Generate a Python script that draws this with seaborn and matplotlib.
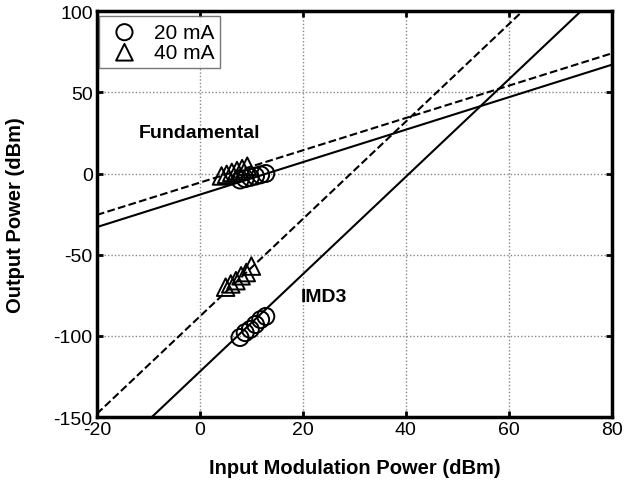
import matplotlib
matplotlib.use("Agg")
import matplotlib.pyplot as plt
import seaborn as sns
import pandas as pd

# Measured data
fund_x_20 = [7.8, 8.8, 9.8, 10.8, 11.8, 12.8]
fund_y_20 = [-4.0, -3.2, -2.4, -1.6, -0.8, 0.0]
fund_x_40 = [4.2, 5.2, 6.2, 7.2, 8.2, 9.2]
fund_y_40 = [-1.5, -0.5, 0.7, 1.8, 3.0, 4.5]
imd_x_20 = [7.8, 8.8, 9.8, 10.8, 11.8, 12.8]
imd_y_20 = [-101, -98, -96, -93, -90, -88]
imd_x_40 = [5.0, 6.0, 7.0, 8.0, 9.0, 10.0]
imd_y_40 = [-70, -68, -66, -63, -61, -57]

# Fitted lines (endpoints at axis limits)
fit_x = [-20, 80]
fund_fit_20 = [-33, 67]
fund_fit_40 = [-25.5, 74]
imd_fit_20 = [-182, 118]
imd_fit_40 = [-148, 152]

x_ticks = [-20, 0, 20, 40, 60, 80]
y_ticks = [-150, -100, -50, 0, 50, 100]

sns.set_style("white")
plt.rcParams['font.family'] = ['Liberation Sans', 'DejaVu Sans']
plt.rcParams['axes.unicode_minus'] = False
for k in ['text.color', 'axes.labelcolor', 'xtick.color', 'ytick.color']:
    plt.rcParams[k] = 'black'

fig = plt.figure(figsize=(6.25, 4.85), dpi=100)
ax = fig.add_axes([0.155, 0.138, 0.824, 0.837])

# grid
for xv in x_ticks[1:-1]:
    ax.axvline(xv, color='#888888', ls=(0, (1, 1.5)), lw=1.0, zorder=0)
for yv in y_ticks[1:-1]:
    ax.axhline(yv, color='#888888', ls=(0, (1, 1.5)), lw=1.0, zorder=0)

lines = pd.DataFrame({
    'x': fit_x * 4,
    'y': fund_fit_20 + fund_fit_40 + imd_fit_20 + imd_fit_40,
    'series': ['f20'] * 2 + ['f40'] * 2 + ['i20'] * 2 + ['i40'] * 2,
})
for s, ls in [('f20', '-'), ('f40', '--'), ('i20', '-'), ('i40', '--')]:
    d = lines[lines.series == s]
    sns.lineplot(data=d, x='x', y='y', ax=ax, color='black', lw=1.5,
                 linestyle=ls, legend=False, zorder=2)

c20 = pd.DataFrame({'x': fund_x_20 + imd_x_20, 'y': fund_y_20 + imd_y_20})
t40 = pd.DataFrame({'x': fund_x_40 + imd_x_40, 'y': fund_y_40 + imd_y_40})
sns.scatterplot(data=c20, x='x', y='y', ax=ax, marker='o', s=150,
                facecolor='none', edgecolor='black', linewidth=1.4,
                label='20 mA', zorder=3)
sns.scatterplot(data=t40, x='x', y='y', ax=ax, marker='^', s=160,
                facecolor='none', edgecolor='black', linewidth=1.4,
                label='40 mA', zorder=3)

ax.set_xlim(-20, 80)
ax.set_ylim(-150, 100)
ax.set_xticks(x_ticks)
ax.set_yticks(y_ticks)
ax.tick_params(direction='in', length=4, width=2, labelsize=14, pad=3,
               top=True, right=True, bottom=True, left=True)
for sp in ax.spines.values():
    sp.set_linewidth(2.5)
    sp.set_color('black')

ax.set_xlabel('Input Modulation Power (dBm)', fontsize=14.5, fontweight='bold')
ax.set_ylabel('Output Power (dBm)', fontsize=14.5, fontweight='bold')
ax.xaxis.set_label_coords(0.5, -0.1)
ax.yaxis.set_label_coords(-0.14, 0.5)

ax.text(0, 25.5, 'Fundamental', fontsize=14, fontweight='bold', ha='center', va='center')
ax.text(24, -76, 'IMD3', fontsize=14, fontweight='bold', ha='center', va='center')

leg = ax.legend(loc='upper left', bbox_to_anchor=(0.005, 0.987), fontsize=15,
                frameon=True, fancybox=False, edgecolor='#555555',
                borderaxespad=0.0, handletextpad=0.5, handlelength=1.8,
                labelspacing=0.05, borderpad=0.3, markerscale=0.95)
leg.get_frame().set_linewidth(1.0)

fig.savefig('out.png', dpi=100)
